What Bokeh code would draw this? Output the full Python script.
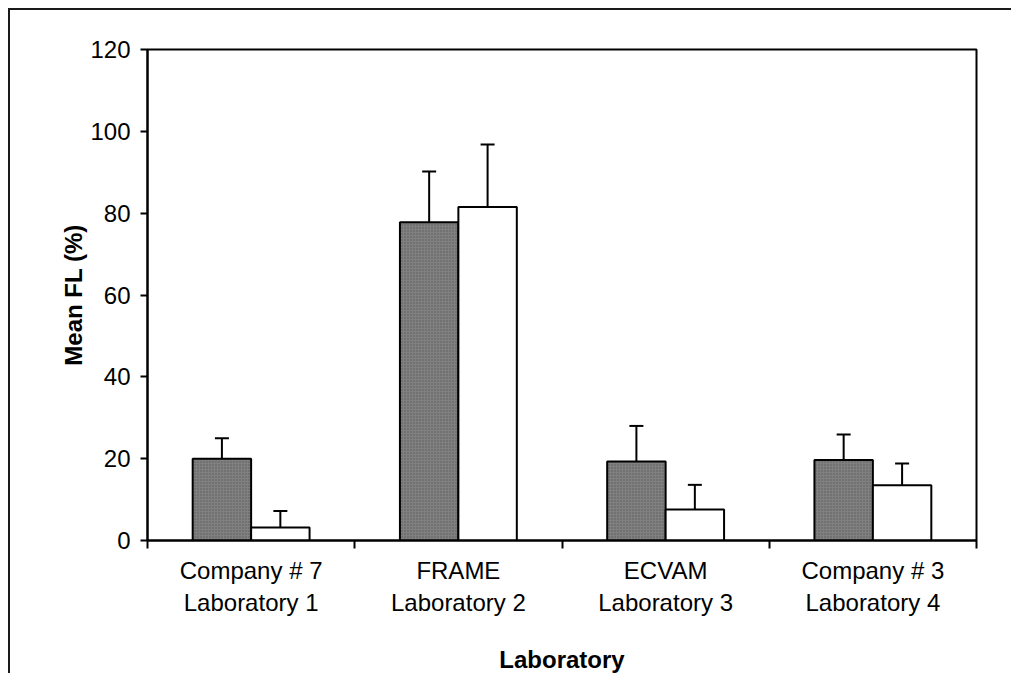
from bokeh.plotting import figure
from bokeh.models import FixedTicker, Whisker, ColumnDataSource, TeeHead
from bokeh.embed import file_html
from bokeh.resources import INLINE

# ---- data ----
categories = ["Company # 7\nLaboratory 1", "FRAME\nLaboratory 2",
              "ECVAM\nLaboratory 3", "Company # 3\nLaboratory 4"]
series_a = [20.0, 77.8, 19.3, 19.7]      # dark bars
series_a_err = [5.0, 12.4, 8.7, 6.2]
series_b = [3.2, 81.5, 7.6, 13.5]        # white bars
series_b_err = [4.0, 15.3, 6.0, 5.3]
y_ticks = [0, 20, 40, 60, 80, 100, 120]

n = len(categories)
centers = [i + 0.5 for i in range(n)]
bw = 0.282
xa = [c - bw / 2 for c in centers]
xb = [c + bw / 2 for c in centers]

FONT = "Liberation Sans"

p = figure(width=1003, height=665, x_range=(0, n), y_range=(0, 120),
           output_backend="svg", toolbar_location=None,
           min_border_left=137, min_border_top=39, min_border_right=37,
           min_border_bottom=135)
p.styles = {"border-top": "2px solid #1a1a1a", "border-left": "2px solid #1a1a1a",
            "margin-left": "8px", "margin-top": "8px"}
p.xgrid.visible = False
p.ygrid.visible = False
p.outline_line_color = "black"
p.outline_line_width = 2
p.background_fill_color = "white"
p.border_fill_color = "white"

src_a = ColumnDataSource(dict(x=xa, top=series_a, up=[v + e for v, e in zip(series_a, series_a_err)]))
src_b = ColumnDataSource(dict(x=xb, top=series_b, up=[v + e for v, e in zip(series_b, series_b_err)]))

p.vbar(x="x", top="top", bottom=0, width=bw, source=src_a,
       fill_color="#808080", line_color="black", line_width=2,
       hatch_pattern="dot", hatch_color="#5a5a5a", hatch_scale=3, hatch_weight=1)
p.vbar(x="x", top="top", bottom=0, width=bw, source=src_b,
       fill_color="white", line_color="black", line_width=2)

for src in (src_a, src_b):
    w = Whisker(base="x", lower="top", upper="up", source=src, dimension="height",
                line_color="black", line_width=2, lower_head=None,
                upper_head=TeeHead(size=14, line_color="black", line_width=2))
    p.add_layout(w)

# x axis: labels at centers, ticks at boundaries
xax = p.xaxis[0]
xax.ticker = FixedTicker(ticks=centers, minor_ticks=list(range(n + 1)))
xax.major_label_overrides = {c: lab for c, lab in zip(centers, categories)}
xax.major_tick_out = 0
xax.major_tick_in = 0
xax.minor_tick_out = 8
xax.minor_tick_in = 0
xax.minor_tick_line_width = 2
xax.axis_line_width = 2
xax.major_label_text_font = FONT
xax.major_label_text_font_size = "24px"
xax.major_label_text_color = "black"
xax.major_label_standoff = 8
xax.axis_label = "Laboratory"
xax.axis_label_text_font = FONT
xax.axis_label_text_font_size = "24px"
xax.axis_label_text_font_style = "bold"
xax.axis_label_text_color = "black"
xax.axis_label_standoff = 27

yax = p.yaxis[0]
yax.ticker = FixedTicker(ticks=y_ticks, minor_ticks=[])
yax.major_tick_out = 7
yax.major_tick_in = 0
yax.major_tick_line_width = 2
yax.axis_line_width = 2
yax.major_label_text_font = FONT
yax.major_label_text_font_size = "24px"
yax.major_label_text_color = "black"
yax.major_label_standoff = 10
yax.axis_label = "Mean FL (%)"
yax.axis_label_text_font = FONT
yax.axis_label_text_font_size = "24px"
yax.axis_label_text_font_style = "bold"
yax.axis_label_text_color = "black"
yax.axis_label_standoff = 0

open("out.html", "w").write(file_html(p, INLINE))
